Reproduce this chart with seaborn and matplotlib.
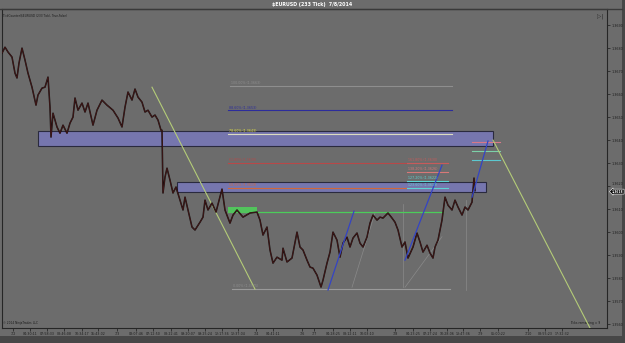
import matplotlib
matplotlib.use("Agg")
import matplotlib.pyplot as plt
import seaborn as sns
import pandas as pd
from matplotlib.patches import Rectangle

# ---------------- data ----------------
bar = [2, 5, 8, 12, 15, 17, 19, 22, 25, 28, 32, 36, 38, 42, 45, 48, 50, 51, 53, 57,
       60, 63, 67, 70, 73, 75, 78, 82, 85, 88, 93, 97, 102, 107, 113, 118, 122, 125, 128, 132,
       135, 138, 142, 145, 148, 152, 155, 158, 161, 162, 163, 165, 167, 170, 173, 176, 180, 183, 185, 188,
       192, 195, 200, 203, 205, 208, 212, 216, 222, 225, 230, 233, 237, 243, 250, 257, 260, 263, 267, 270,
       273, 277, 282, 283, 287, 292, 297, 300, 303, 307, 310, 313, 317, 321, 323, 327, 330, 333, 337, 340,
       343, 347, 350, 353, 357, 360, 363, 367, 370, 373, 377, 380, 383, 388, 392, 395, 398, 402, 405, 408,
       413, 417, 420, 423, 427, 430, 433, 435, 438, 442, 445, 448, 452, 455, 458, 462, 465, 468, 472, 474,
       475]
price = [1.36778, 1.36804, 1.36783, 1.36761, 1.36691, 1.36670, 1.36735, 1.36800, 1.36748, 1.36691,
         1.36630, 1.36552, 1.36596, 1.36626, 1.36630, 1.36674, 1.36543, 1.36413, 1.36517, 1.36457,
         1.36430, 1.36465, 1.36430, 1.36474, 1.36500, 1.36583, 1.36530, 1.36561, 1.36522, 1.36561,
         1.36465, 1.36530, 1.36574, 1.36552, 1.36530, 1.36496, 1.36457, 1.36543, 1.36609, 1.36574,
         1.36622, 1.36587, 1.36565, 1.36522, 1.36530, 1.36500, 1.36509, 1.36487, 1.36443, 1.36443,
         1.36170, 1.36239, 1.36278, 1.36226, 1.36170, 1.36196, 1.36139, 1.36096, 1.36152, 1.36096,
         1.36022, 1.36009, 1.36043, 1.36065, 1.36139, 1.36096, 1.36126, 1.36087, 1.36187, 1.36096,
         1.36039, 1.36074, 1.36096, 1.36065, 1.36083, 1.36087, 1.36052, 1.35987, 1.36022, 1.35922,
         1.35865, 1.35891, 1.35878, 1.35930, 1.35870, 1.35887, 1.36000, 1.35935, 1.35922, 1.35878,
         1.35848, 1.35843, 1.35813, 1.35761, 1.35791, 1.35865, 1.35913, 1.36000, 1.35965, 1.35891,
         1.35952, 1.35978, 1.35935, 1.35974, 1.35996, 1.35952, 1.35935, 1.35978, 1.36039, 1.36074,
         1.36052, 1.36065, 1.36061, 1.36083, 1.36061, 1.36043, 1.36009, 1.35935, 1.35957, 1.35887,
         1.35935, 1.35996, 1.35957, 1.35913, 1.35943, 1.35909, 1.35887, 1.35935, 1.35965, 1.36052,
         1.36152, 1.36117, 1.36096, 1.36139, 1.36109, 1.36074, 1.36109, 1.36096, 1.36130, 1.36235,
         1.36180]
last_price = 1.36180

ytick_vals = [1.3690, 1.3680, 1.3670, 1.3660, 1.3650, 1.3640, 1.3630,
              1.3620, 1.3610, 1.3600, 1.3590, 1.3580, 1.3570, 1.3560]
ytick_labs = ["1.3690", "1.3680", "1.3670", "1.3660", "1.3650", "1.3640", "1.3630",
              "1.3620", "1.3610", "1.3600", "1.3590", "1.3580", "1.3570", "1.3560"]

xtick_pos = [13, 30, 47, 64, 82, 98, 117, 136, 153, 171, 188, 205, 222, 238, 256, 273,
             302, 314, 333, 350, 367, 395, 413, 430, 447, 463, 480, 498, 528, 545, 562]
xtick_labs = ["7/2", "04:30:11", "07:58:33", "08:46:08", "10:34:17", "15:43:02", "7/3",
              "03:07:46", "07:12:50", "08:22:41", "09:20:07", "09:25:24", "12:17:36", "12:37:04",
              "7/4", "04:41:11", "7/6", "7/7", "04:28:25", "08:12:11", "10:03:10", "7/8",
              "04:23:25", "07:27:24", "10:28:06", "13:47:36", "7/9", "05:00:22", "7/10",
              "08:55:23", "17:32:32"]

# zones (start bar, end bar, low, high)
zone_start = [38, 177]
zone_end = [493, 486]
zone_low = [1.36374, 1.36174]
zone_high = [1.36439, 1.36217]

# retracement levels
fib_labels = ["100.00% (1.3663)", "88.60% (1.3653)", "78.60% (1.3643)",
              "61.80% (1.3630)", "50.00% (1.3619)", "0.00% (1.3575)"]
fib_prices = [1.36635, 1.36530, 1.36426, 1.36300, 1.36191, 1.35752]
fib_line_colors = ["#8e8e8e", "#2c2c9c", "#dcdcc0", "#b84848", "#d0683a", "#9a9a9a"]
fib_text_colors = ["#8e8e8e", "#2c2c9c", "#e6e640", "#b84848", "#d0683a", "#8e8e8e"]
fib_start = [230, 228, 228, 228, 228, 232]
fib_end = [452, 452, 452, 448, 448, 450]

# extension levels
ext_labels = ["161.80% (1.3630)", "138.20% (1.3626)", "127.20% (1.3622)", "123.60% (1.3619)"]
ext_prices = [1.36300, 1.36261, 1.36222, 1.36191]
ext_colors = ["#c85a5a", "#d87878", "#5cd4d4", "#5cd4d4"]
ext_start = 407
ext_end = 448

# short target lines upper right
tgt_prices = [1.36391, 1.36352, 1.36313]
tgt_colors = ["#d87888", "#7cd0a8", "#5cc8d0"]
tgt_start = 472
tgt_end = 500

# green level
green_price = 1.36087
green_start, green_end = 228, 443
green_box = (228, 257, 1.36083, 1.36109)

# trend lines (bar0, price0, bar1, price1)
blue_lines = [(328, 1.35748, 354, 1.36091),
              (405, 1.35878, 442, 1.36291),
              (472, 1.36152, 488, 1.36396)]
yg_lines = [(152, 1.36630, 255, 1.35752),
            (493, 1.36400, 590, 1.35583)]
faint_lines = [(352, 1.35760, 375, 1.36083),
               (403, 1.35760, 403, 1.36120),
               (405, 1.35760, 442, 1.35980),
               (466, 1.35750, 466, 1.36140)]

# ---------------- figure ----------------
W, H = 625, 343
fig = plt.figure(figsize=(W / 100, H / 100), dpi=100)
fig.patch.set_facecolor("#474747")
fig.add_artist(Rectangle((0, 7 / H), 622 / W, 1 - 7 / H, transform=fig.transFigure,
                         facecolor="#6c6c6c", edgecolor="none", zorder=0))
fig.add_artist(plt.Line2D([0, 622 / W], [1 - 8.5 / H, 1 - 8.5 / H], transform=fig.transFigure,
                          color="#3a3a3a", lw=1.0))

ax = fig.add_axes([2 / W, 15 / H, 605 / W, 319 / H])
ax.set_facecolor("#6c6c6c")

df = pd.DataFrame({"bar": bar, "price": price})
sns.lineplot(data=df, x="bar", y="price", ax=ax, color="#160d0d", lw=1.1, zorder=5,
             estimator=None, sort=False)
sns.lineplot(data=df, x="bar", y="price", ax=ax, color="#5c1e1e", lw=0.35, zorder=6,
             estimator=None, sort=False)

for s, e, lo, hi in zip(zone_start, zone_end, zone_low, zone_high):
    ax.add_patch(Rectangle((s, lo), e - s, hi - lo, facecolor="#7676ae",
                           edgecolor="#2a2a3e", lw=0.8, zorder=3))

for lab, p, lc, tc, s, e in zip(fib_labels, fib_prices, fib_line_colors, fib_text_colors,
                                 fib_start, fib_end):
    ax.plot([s, e], [p, p], color=lc, lw=0.8, zorder=4)
    ax.text(s + 1, p + 0.00003, lab, color=tc, fontsize=2.3, va="bottom", ha="left", zorder=7)

for lab, p, c in zip(ext_labels, ext_prices, ext_colors):
    ax.plot([ext_start, ext_end], [p, p], color=c, lw=0.8, zorder=4)
    ax.text(ext_start + 1, p + 0.00003, lab, color=c, fontsize=2.3, va="bottom", ha="left", zorder=7)

for p, c in zip(tgt_prices, tgt_colors):
    ax.plot([tgt_start, tgt_end], [p, p], color=c, lw=0.8, zorder=4)

ax.plot([green_start, green_end], [green_price, green_price], color="#4ccc5a", lw=0.9, zorder=4)
gs, ge, glo, ghi = green_box
ax.add_patch(Rectangle((gs, glo), ge - gs, ghi - glo, facecolor="#52c45c", edgecolor="none", zorder=4))

for b0, p0, b1, p1 in blue_lines:
    ax.plot([b0, b1], [p0, p1], color="#3444c4", lw=0.9, zorder=6)
for b0, p0, b1, p1 in yg_lines:
    ax.plot([b0, b1], [p0, p1], color="#b4cc78", lw=0.8, zorder=4)
for b0, p0, b1, p1 in faint_lines:
    ax.plot([b0, b1], [p0, p1], color="#8a8a8a", lw=0.5, zorder=2)

ax.set_xlim(2, 607)
ax.set_ylim(1.35583, 1.36970)
ax.yaxis.tick_right()
ax.set_yticks(ytick_vals)
ax.set_yticklabels(ytick_labs)
ax.set_xticks(xtick_pos)
ax.set_xticklabels(xtick_labs)
ax.tick_params(axis="y", length=2, width=0.5, colors="#1c1c1c", labelsize=2.4, pad=1)
ax.tick_params(axis="x", length=2, width=0.5, colors="#1c1c1c", labelsize=2.3, pad=1)
ax.set_xlabel("")
ax.set_ylabel("")
for side in ["left", "top", "right", "bottom"]:
    ax.spines[side].set_color("#262626")
    ax.spines[side].set_linewidth(0.8)
# nudge the tick label at the current price upward so the price box does not cover it
for lbl, v in zip(ax.get_yticklabels(), ytick_vals):
    if abs(v - 1.3620) < 1e-6:
        lbl.set_va("bottom")

ax.annotate(f"{last_price:.4f}", xy=(607, last_price), xycoords="data",
            xytext=(612, last_price - 0.00004), textcoords="data", fontsize=2.2, color="white",
            fontweight="bold", va="center", ha="left", annotation_clip=False,
            bbox=dict(boxstyle="larrow,pad=0.15", fc="#0a0a0a", ec="white", lw=0.4), zorder=10)

fig.text(312 / W, 1 - 4.5 / H, "$EURUSD (233 Tick)  7/8/2014", color="white", fontsize=3.4,
         fontweight="bold", ha="center", va="center")
ax.text(0.002, 0.985, "TickCounter($EURUSD (233 Tick), True,False)", transform=ax.transAxes,
        fontsize=2.1, color="#1a1a1a", ha="left", va="top")
ax.text(0.002, 0.01, "\u00a9 2014 NinjaTrader, LLC", transform=ax.transAxes,
        fontsize=2.1, color="#1a1a1a", ha="left", va="bottom")
ax.text(600, 1.35606, "Ticks remaining = 9", fontsize=2.2, color="#1a1a1a", ha="right", va="center")
ax.text(600, 1.36940, "\u25b7|", fontsize=4, color="#2a2a2a", ha="center", va="center")

fig.savefig("out.png", dpi=100, facecolor=fig.get_facecolor())
